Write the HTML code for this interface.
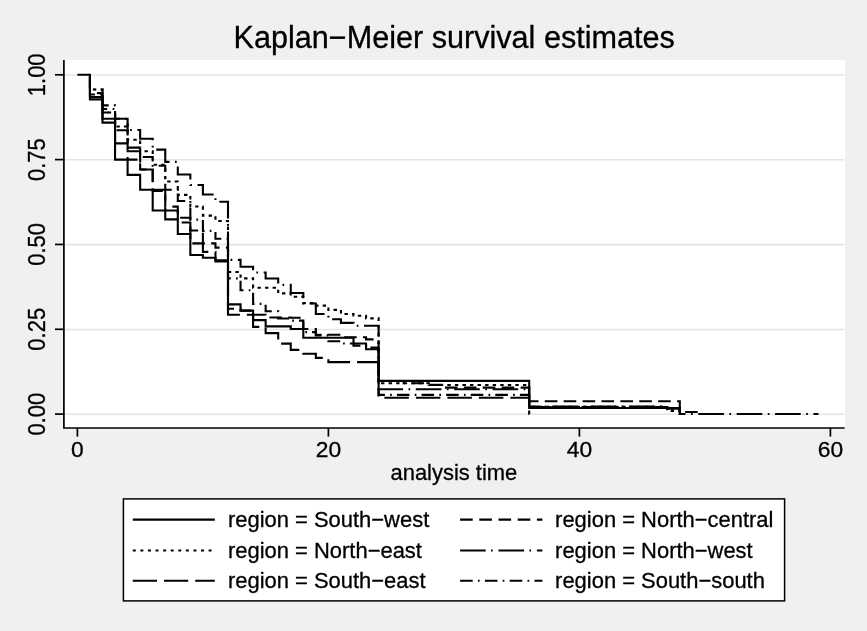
<!DOCTYPE html>
<html><head><meta charset="utf-8"><title>Kaplan-Meier survival estimates</title>
<style>
html,body{margin:0;padding:0;background:#f0f0f0;}
body{width:867px;height:631px;overflow:hidden;}
svg{display:block;}
text{font-family:"Liberation Sans",sans-serif;fill:#000;stroke:#000;stroke-width:0.3;}
.c{fill:none;stroke:#000;stroke-width:2.1;stroke-linejoin:miter;stroke-linecap:butt;}
.g{stroke:#e3e3e3;stroke-width:1.6;}
.ax{stroke:#000;stroke-width:1.7;fill:none;}
</style></head><body>
<svg width="867" height="631" viewBox="0 0 867 631">
<rect x="0" y="0" width="867" height="631" fill="#f0f0f0"/>
<rect x="63.3" y="60" width="781.7" height="368" fill="#ffffff"/>

<line class="g" x1="64.5" x2="844.3" y1="414.30" y2="414.30"/>
<line class="g" x1="64.5" x2="844.3" y1="329.48" y2="329.48"/>
<line class="g" x1="64.5" x2="844.3" y1="244.65" y2="244.65"/>
<line class="g" x1="64.5" x2="844.3" y1="159.82" y2="159.82"/>
<line class="g" x1="64.5" x2="844.3" y1="75.00" y2="75.00"/>
<path class="c" stroke-dasharray="3.4 4.157" stroke-dashoffset="12.55" d="M89.95 74.80 H89.95 V89.53 H102.50 V112.46 H115.05 V126.51 H127.60 V139.78 H140.15 V151.28 H152.70 V164.71 H165.25 V181.51 H177.80 V194.91 H190.35 V206.45 H202.90 V215.61 H215.45 V221.04 H228.00 V272.00 H240.55 V278.38 H253.10 V287.68 H278.20 V293.41 H290.75 V296.70 H303.30 V303.15 H315.85 V305.63 H328.40 V309.83 H340.95 V314.01 H353.50 V315.80 H366.05 V318.42 H378.60 V383.29 H428.80 V384.99 H529.20 V406.87 H667.25 V411.05 H679.80"/>
<path class="c" stroke-dasharray="12.6 5.2 1.7 5.1" stroke-dashoffset="12.55" d="M89.95 74.80 H89.95 V94.48 H102.50 V105.34 H115.05 V118.71 H127.60 V147.58 H140.15 V157.01 H152.70 V165.73 H165.25 V189.82 H177.80 V201.02 H190.35 V219.61 H202.90 V230.88 H215.45 V238.68 H228.00 V278.38 H240.55 V290.26 H253.10 V303.90 H265.65 V311.22 H278.20 V318.49 H290.75 V320.59 H303.30 V332.09 H315.85 V335.38 H328.40 V341.22 H340.95 V343.53 H353.50 V345.60 H366.05 V347.60 H378.60 V394.90 H529.20 V407.08 H667.25 V408.67 H679.80"/>
<path class="c" stroke-dasharray="25.6 5.5 1.7 5.6" stroke-dashoffset="12.55" d="M89.95 74.80 H89.95 V89.53 H102.50 V109.07 H115.05 V118.71 H127.60 V130.00 H140.15 V138.72 H152.70 V149.58 H165.25 V161.90 H177.80 V174.55 H190.35 V185.07 H202.90 V194.57 H215.45 V201.70 H228.00 V259.92 H240.55 V266.74 H253.10 V272.51 H265.65 V278.48 H278.20 V284.83 H290.75 V292.97 H303.30 V303.49 H315.85 V314.01 H328.40 V319.23 H340.95 V322.90 H353.50 V325.75 H378.60 V389.20 H529.20 V406.50 H667.25 V408.67 H679.80 V413.93 H818.48"/>
<path class="c" stroke-dasharray="12.6 6.3" stroke-dashoffset="12.55" d="M89.95 74.80 H89.95 V93.12 H102.50 V112.46 H115.05 V130.21 H127.60 V159.62 H140.15 V169.46 H152.70 V191.01 H165.25 V206.62 H177.80 V217.81 H190.35 V243.40 H215.45 V247.61 H228.00 V308.78 H240.55 V310.65 H253.10 V314.82 H265.65 V317.47 H290.75 V317.74 H303.30 V328.97 H315.85 V334.70 H340.95 V337.28 H366.05 V339.35 H378.60 V381.02 H403.70 V383.29 H428.80 V384.92 H441.35 V387.63 H529.20 V401.21 H679.80 V412.06 H699.88"/>
<path class="c" stroke-dasharray="24.5 7" stroke-dashoffset="12.55" d="M89.95 74.80 H89.95 V96.99 H102.50 V118.71 H115.05 V143.34 H127.60 V151.28 H140.15 V169.46 H152.70 V189.82 H165.25 V210.52 H177.80 V222.50 H190.35 V230.54 H202.90 V251.91 H215.45 V260.23 H228.00 V314.82 H253.10 V326.90 H265.65 V333.14 H278.20 V343.59 H290.75 V349.90 H303.30 V353.70 H315.85 V357.91 H328.40 V362.12 H378.60 V397.81 H529.20 V414.00 H529.33"/>
<path class="c" d="M77.40 74.80 H89.95 V99.40 H102.50 V122.64 H115.05 V159.62 H127.60 V174.89 H140.15 V189.82 H152.70 V210.52 H165.25 V219.34 H177.80 V233.93 H190.35 V254.97 H202.90 V257.68 H215.45 V261.52 H228.00 V304.40 H240.55 V310.65 H253.10 V320.11 H265.65 V326.36 H290.75 V328.97 H303.30 V337.79 H353.50 V343.53 H366.05 V349.23 H378.60 V380.92 H529.20 V408.06 H679.80 V413.93 H679.93"/>
<path class="ax" d="M63.9 60 V428 H844.6"/>
<line class="ax" x1="55" x2="63.9" y1="414.10" y2="414.10"/>
<line class="ax" x1="55" x2="63.9" y1="329.28" y2="329.28"/>
<line class="ax" x1="55" x2="63.9" y1="244.45" y2="244.45"/>
<line class="ax" x1="55" x2="63.9" y1="159.62" y2="159.62"/>
<line class="ax" x1="55" x2="63.9" y1="74.80" y2="74.80"/>
<line class="ax" x1="77.40" x2="77.40" y1="428" y2="436.6"/>
<line class="ax" x1="328.40" x2="328.40" y1="428" y2="436.6"/>
<line class="ax" x1="579.40" x2="579.40" y1="428" y2="436.6"/>
<line class="ax" x1="830.40" x2="830.40" y1="428" y2="436.6"/>
<text transform="translate(77.40 457.2) scale(1.04 1.01)" font-size="21.95" text-anchor="middle">0</text>
<text transform="translate(328.40 457.2) scale(1.04 1.01)" font-size="21.95" text-anchor="middle">20</text>
<text transform="translate(579.40 457.2) scale(1.04 1.01)" font-size="21.95" text-anchor="middle">40</text>
<text transform="translate(830.40 457.2) scale(1.04 1.01)" font-size="21.95" text-anchor="middle">60</text>
<text transform="translate(44.6 414.10) rotate(-90) scale(1 1.127)" font-size="22.0" text-anchor="middle">0.00</text>
<text transform="translate(44.6 329.28) rotate(-90) scale(1 1.127)" font-size="22.0" text-anchor="middle">0.25</text>
<text transform="translate(44.6 244.45) rotate(-90) scale(1 1.127)" font-size="22.0" text-anchor="middle">0.50</text>
<text transform="translate(44.6 159.62) rotate(-90) scale(1 1.127)" font-size="22.0" text-anchor="middle">0.75</text>
<text transform="translate(44.6 74.80) rotate(-90) scale(1 1.127)" font-size="22.0" text-anchor="middle">1.00</text>
<text transform="translate(453.9 480.2) scale(1.0 1)" font-size="21.95" text-anchor="middle">analysis time</text>
<text x="454.2" y="48.1" font-size="30.6" text-anchor="middle">Kaplan−Meier survival estimates</text>
<rect x="123.4" y="498.9" width="661.2" height="102" fill="#fff" stroke="#000" stroke-width="1.5"/>
<path class="c" d="M132.8 519.6 H214.8"/>
<text transform="translate(228.0 527.3) scale(1.0 1)" font-size="21.95">region = South−west</text>
<path class="c" stroke-dasharray="3.0 4.58" d="M132.8 550.5 H214.8"/>
<text transform="translate(228.0 557.6) scale(1.0 1)" font-size="21.95">region = North−east</text>
<path class="c" stroke-dasharray="24.2 7.0" d="M132.8 580.7 H214.8"/>
<text transform="translate(228.0 587.5) scale(1.0 1)" font-size="21.95">region = South−east</text>
<path class="c" stroke-dasharray="12.6 6.6" d="M460.1 519.6 H542.4"/>
<text transform="translate(555.1 527.3) scale(1.0 1)" font-size="21.95">region = North−central</text>
<path class="c" stroke-dasharray="25.6 5.3 1.7 5.8" d="M460.1 550.5 H542.4"/>
<text transform="translate(555.1 557.6) scale(1.0 1)" font-size="21.95">region = North−west</text>
<path class="c" stroke-dasharray="12.6 5.2 1.7 5.3" d="M460.1 580.7 H542.4"/>
<text transform="translate(555.1 587.5) scale(1.0 1)" font-size="21.95">region = South−south</text>
</svg></body></html>
